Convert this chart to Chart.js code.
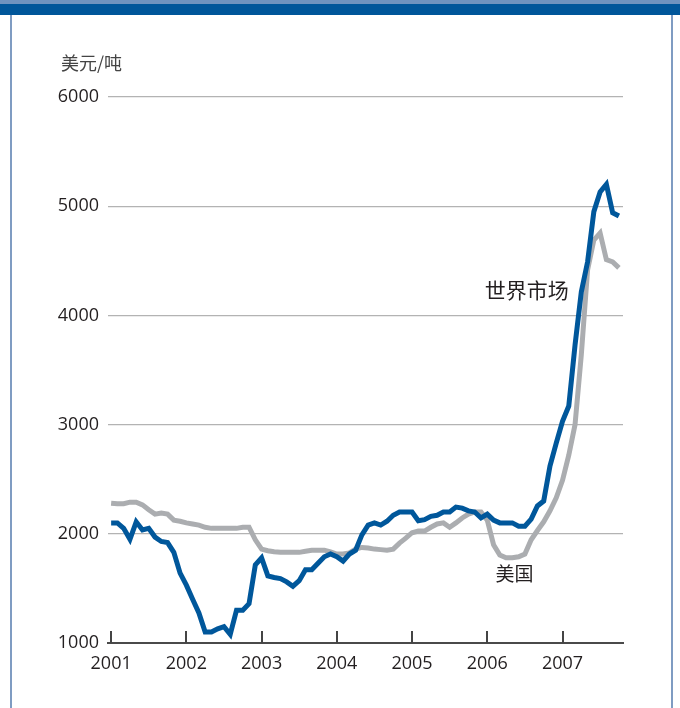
<!DOCTYPE html>
<html>
<head>
<meta charset="utf-8">
<script src="https://cdn.jsdelivr.net/npm/chart.js@4/dist/chart.umd.min.js"></script>
<style>
  html, body { margin: 0; padding: 0; background: #fff; }
  #wrap { position: relative; width: 680px; height: 708px; overflow: hidden; }
  #box { position: absolute; left: 0; top: 0; width: 680px; height: 708px; }
  .edge { position: absolute; background: #7f9cc2; }
  #band { position: absolute; left: 0; top: 4px; width: 680px; height: 11px; background: #00569a; }
</style>
</head>
<body>
<div id="wrap">
  <div id="box"><canvas id="priceChart"></canvas></div>
  <div class="edge" style="left:0;top:0;width:680px;height:4px;background:#6f93bf"></div>
  <div id="band"></div>
  <div class="edge" style="left:10px;top:15px;width:2px;height:693px"></div>
  <div class="edge" style="left:671px;top:15px;width:2px;height:693px"></div>
</div>
<script>
// monthly prices, Jan 2001 - Oct 2007 (USD per tonne)
var years = ['2001', '2002', '2003', '2004', '2005', '2006', '2007'];
var yTicks = [1000, 2000, 3000, 4000, 5000, 6000];

var worldPrice = [
	2100, 2100, 2050, 1950, 2110, 2035, 2050, 1970, 1930, 1920,
	1830, 1640, 1530, 1400, 1275, 1100, 1100, 1130, 1150, 1080,
	1300, 1300, 1360, 1715, 1780, 1615, 1600, 1590, 1560, 1520,
	1570, 1670, 1670, 1730, 1790, 1815, 1790, 1750, 1815, 1850,
	1990, 2080, 2100, 2080, 2115, 2170, 2200, 2200, 2200, 2120,
	2130, 2160, 2170, 2200, 2200, 2245, 2235, 2210, 2200, 2145,
	2180, 2125, 2100, 2100, 2100, 2070, 2070, 2135, 2255, 2300,
	2620, 2830, 3030, 3170, 3730, 4215, 4490, 4950, 5130, 5200,
	4940, 4910
];

var usPrice = [
	2280, 2275, 2275, 2290, 2290, 2265, 2220, 2180, 2190, 2180,
	2125, 2115, 2100, 2090, 2080, 2060, 2050, 2050, 2050, 2050,
	2050, 2060, 2060, 1945, 1860, 1845, 1835, 1830, 1830, 1830,
	1830, 1840, 1850, 1850, 1850, 1835, 1815, 1815, 1825, 1860,
	1875, 1870, 1860, 1855, 1850, 1860, 1915, 1960, 2010, 2025,
	2025, 2060, 2090, 2100, 2060, 2100, 2145, 2180, 2200, 2200,
	2125, 1900, 1805, 1780, 1780, 1790, 1815, 1945, 2030, 2110,
	2210, 2330, 2490, 2720, 3000, 3640, 4415, 4690, 4755, 4510,
	4490, 4435
];

var cjkFont = "'Noto Sans CJK SC', sans-serif";
var numFont = "'Open Sans', sans-serif";
var textColor = '#231f20';

var points = function (arr) {
	return arr.map(function (v, i) { return { x: i, y: v }; });
};

// upward year ticks on the bottom axis, series captions and unit
var decorations = {
	id: 'decorations',
	afterDatasetsDraw: function (chart) {
		var c = chart.ctx;
		var xs = chart.scales.x, ys = chart.scales.y;
		var bottom = ys.getPixelForValue(1000);
		c.save();
		c.strokeStyle = '#444';
		c.lineWidth = 2;
		years.forEach(function (y, i) {
			var px = Math.round(xs.getPixelForValue(i * 12));
			c.beginPath();
			c.moveTo(px, bottom - 12);
			c.lineTo(px, bottom);
			c.stroke();
		});
		c.fillStyle = textColor;
		c.textBaseline = 'middle';
		c.textAlign = 'right';
		c.font = '21px ' + cjkFont;
		c.fillText('世界市场', xs.getPixelForValue(73), ys.getPixelForValue(4230));
		c.textAlign = 'left';
		c.font = '19px ' + cjkFont;
		c.fillText('美国', xs.getPixelForValue(61.3), ys.getPixelForValue(1630));
		c.fillStyle = '#444';
		c.font = '18px ' + cjkFont;
		c.fillText('美元/吨', 61, 63);
		c.restore();
	}
};

var ctx = document.getElementById('priceChart').getContext('2d');
var priceChart = new Chart(ctx, {
	type: 'line',
	data: {
		datasets: [{
			label: '世界市场',
			data: points(worldPrice),
			borderColor: '#00579b',
			borderWidth: 5,
			pointRadius: 0,
			tension: 0
		}, {
			label: '美国',
			data: points(usPrice),
			borderColor: '#abadb0',
			borderWidth: 5,
			pointRadius: 0,
			tension: 0
		}]
	},
	options: {
		responsive: true,
		maintainAspectRatio: false,
		animation: false,
		layout: { padding: { top: 97, right: 57, left: 0, bottom: 0 } },
		plugins: { legend: { display: false }, tooltip: { enabled: false } },
		scales: {
			x: {
				type: 'linear',
				min: -0.5,
				max: 81.65,
				afterBuildTicks: function (scale) {
					scale.ticks = years.map(function (y, i) { return { value: i * 12 }; });
				},
				afterFit: function (scale) { scale.height = 65; },
				grid: { display: false, drawTicks: false },
				border: { display: true, color: '#4a4a4a', width: 2 },
				ticks: {
					padding: 10,
					maxRotation: 0,
					color: textColor,
					font: { family: numFont, size: 18 },
					callback: function (v) { return years[v / 12]; }
				}
			},
			y: {
				min: 1000,
				max: 6000,
				afterBuildTicks: function (scale) {
					scale.ticks = yTicks.map(function (v) { return { value: v }; });
				},
				afterFit: function (scale) { scale.width = 108; },
				grid: {
					drawTicks: false,
					lineWidth: 1.3,
					color: function (c) { return c.tick && c.tick.value === 1000 ? '#4a4a4a' : '#b3b3b3'; }
				},
				border: { display: false },
				ticks: {
					padding: 9,
					color: textColor,
					font: { family: numFont, size: 18 },
					callback: function (v) { return String(v); }
				}
			}
		}
	},
	plugins: [decorations]
});
</script>
</body>
</html>
